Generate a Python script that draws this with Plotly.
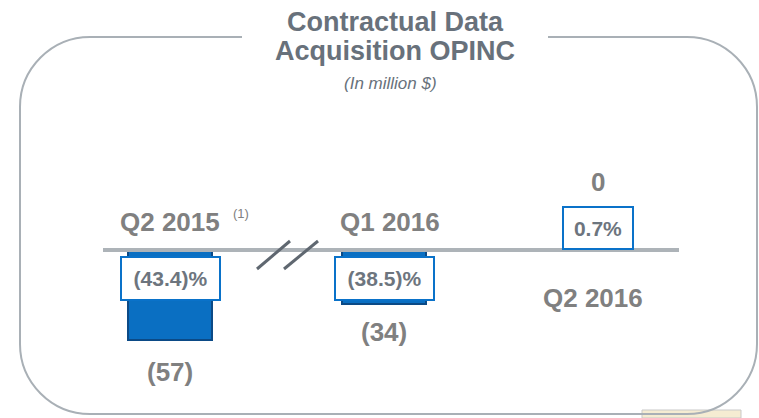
import plotly.graph_objects as go

W, H = 759, 418

periods = ["Q2 2015", "Q1 2016", "Q2 2016"]
opinc = [-57, -34, 0]
margin_pct = [-43.4, -38.5, 0.7]

GREY_TXT = "#808080"
BOX_TXT = "#6d757e"
TITLE_TXT = "#68717b"
BLUE = "#0a6fc2"
FONT = "Liberation Sans, Arial, sans-serif"


def fmt_val(v):
    return f"({abs(v):g})" if v < 0 else f"{v:g}"


def fmt_pct(v):
    return f"({abs(v):.1f})%" if v < 0 else f"{v:.1f}%"


def px(x, y):
    # pixel -> paper coords (plot area covers whole figure)
    return x / W, 1 - y / H


# axis scale: category centres at 170, 384, 598 px; baseline at y=250 px
x_unit = 214.0
x_range = [-170 / x_unit, (W - 170) / x_unit]
y_unit = 1.58
y_range = [-(H - 250) / y_unit, 250 / y_unit]

fig = go.Figure()
fig.add_trace(go.Bar(
    x=periods, y=opinc, width=0.39,
    marker=dict(color=BLUE, line=dict(color="#0b4a86", width=2)),
    hoverinfo="skip", showlegend=False,
))

ann = []
# margin boxes
for p, m in zip(periods, margin_pct):
    neg = m < 0
    ann.append(dict(
        x=p, y=-18 if neg else 14, xref="x", yref="y",
        text=f"<b>{fmt_pct(m)}</b>", showarrow=False,
        font=dict(family=FONT, size=21, color=BOX_TXT),
        bgcolor="white", bordercolor="#0a72c9", borderwidth=2, borderpad=2,
        width=93 if neg else 64, height=37 if neg else 36,
    ))

# value labels
val_shift = [-32, -28, 68]
for p, v, s in zip(periods, opinc, val_shift):
    ann.append(dict(
        x=p, y=v, xref="x", yref="y", yshift=s,
        text=f"<b>{fmt_val(v)}</b>", showarrow=False,
        font=dict(family=FONT, size=26, color=GREY_TXT),
    ))

# period labels
per_shift = [28, 28, -48]
x_shift = [0, 6, -5]
for p, s, xs in zip(periods, per_shift, x_shift):
    ann.append(dict(
        x=p, y=0, xref="x", yref="y", yshift=s, xshift=xs,
        text=f"<b>{p}</b>", showarrow=False,
        font=dict(family=FONT, size=26, color=GREY_TXT),
    ))
ann.append(dict(
    x=periods[0], y=0, xref="x", yref="y", xshift=71, yshift=37,
    text="(1)", showarrow=False,
    font=dict(family=FONT, size=13, color=GREY_TXT),
))

# title
tx = 395 / W
ann += [
    dict(x=tx, y=1 - 22 / H, xref="paper", yref="paper", yanchor="middle",
         text="<b>Contractual Data</b>", showarrow=False,
         font=dict(family=FONT, size=27, color=TITLE_TXT)),
    dict(x=tx, y=1 - 51 / H, xref="paper", yref="paper", yanchor="middle",
         text="<b>Acquisition OPINC</b>", showarrow=False,
         font=dict(family=FONT, size=27, color=TITLE_TXT)),
    dict(x=tx - 5 / W, y=1 - 84 / H, xref="paper", yref="paper", yanchor="middle",
         text="<i>(In million $)</i>", showarrow=False,
         font=dict(family=FONT, size=17, color=TITLE_TXT)),
]

# rounded frame with a gap for the title
L, T, R, B, r = 20, 37, 757, 414, 70


def P(x, y):
    a, b = px(x, y)
    return f"{a:.5f},{b:.5f}"


k = 0.45 * r
frame = (
    f"M {P(242, T)} L {P(L + r, T)} "
    f"C {P(L + k, T)} {P(L, T + k)} {P(L, T + r)} "
    f"L {P(L, B - r)} "
    f"C {P(L, B - k)} {P(L + k, B)} {P(L + r, B)} "
    f"L {P(R - r, B)} "
    f"C {P(R - k, B)} {P(R, B - k)} {P(R, B - r)} "
    f"L {P(R, T + r)} "
    f"C {P(R, T + k)} {P(R - k, T)} {P(R - r, T)} "
    f"L {P(548, T)}"
)

shapes = [
    # logo fragment at bottom right
    dict(type="rect", xref="paper", yref="paper",
         x0=px(642, 0)[0], x1=px(741, 0)[0], y0=0, y1=px(0, 410)[1],
         line=dict(color="#c9c9c9", width=1), fillcolor="#f5ecd2", layer="below"),
    dict(type="path", xref="paper", yref="paper", path=frame,
         line=dict(color="#a9b0b6", width=2)),
    # baseline
    dict(type="line", xref="paper", yref="y",
         x0=103 / W, x1=679 / W, y0=0, y1=0,
         line=dict(color="#adb3b8", width=4), layer="above"),
    # break marks
    dict(type="line", xref="paper", yref="paper",
         x0=px(257, 269)[0], y0=px(257, 269)[1], x1=px(290, 241)[0], y1=px(290, 241)[1],
         line=dict(color="#5f6770", width=3)),
    dict(type="line", xref="paper", yref="paper",
         x0=px(284, 269)[0], y0=px(284, 269)[1], x1=px(318, 241)[0], y1=px(318, 241)[1],
         line=dict(color="#5f6770", width=3)),
]

fig.update_layout(
    width=W, height=H,
    margin=dict(l=0, r=0, t=0, b=0),
    paper_bgcolor="white", plot_bgcolor="white",
    xaxis=dict(type="category", range=x_range, visible=False, fixedrange=True),
    yaxis=dict(range=y_range, visible=False, fixedrange=True),
    annotations=ann, shapes=shapes,
    bargap=0,
)

fig.write_html("out.html", config={"displayModeBar": False},
               post_script="document.body.style.margin='0';")
